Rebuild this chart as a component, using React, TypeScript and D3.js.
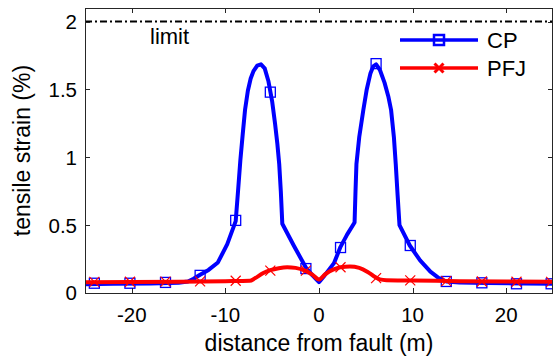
import React from 'react';
import * as d3 from 'd3';

// CP (blue) curve: distance (m) and tensile strain (%)
const cpDistance = [-25, -22, -18, -15, -14, -13.4, -12.7, -11.8, -10.8, -9.8, -8.9, -8.65, -8.4, -8.15, -7.9, -7.6, -7.3, -7.0, -6.6, -6.2, -5.8, -5.4, -5.0, -4.7, -4.45, -4.25, -4.08, -3.92, -2.7, -1.42, -0.7, 0, 0.6, 1.6, 2.3, 3.0, 3.8, 3.9, 4.0, 4.3, 4.74, 5.1, 5.5, 5.8, 6.1, 6.5, 7.0, 7.4, 7.7, 8.0, 8.2, 8.4, 8.6, 9.7, 10.8, 11.9, 12.8, 13.6, 15, 18, 22, 25];
const cpStrain = [0.065, 0.068, 0.07, 0.075, 0.085, 0.105, 0.135, 0.17, 0.225, 0.36, 0.53, 0.75, 0.98, 1.17, 1.35, 1.49, 1.58, 1.635, 1.675, 1.685, 1.655, 1.56, 1.41, 1.25, 1.1, 0.95, 0.75, 0.51, 0.35, 0.19, 0.13, 0.08, 0.13, 0.22, 0.34, 0.43, 0.52, 0.75, 0.95, 1.15, 1.35, 1.5, 1.62, 1.67, 1.685, 1.645, 1.55, 1.45, 1.35, 1.15, 0.95, 0.72, 0.5, 0.35, 0.24, 0.157, 0.11, 0.085, 0.078, 0.073, 0.07, 0.068];

// PFJ (red) curve
const pfjDistance = [-25, -15, -10, -7.4, -6.85, -6.0, -5.2, -4.3, -3.4, -2.5, -1.5, -0.7, 0, 0.7, 1.5, 2.3, 3.3, 4.3, 5.2, 5.9, 6.5, 7.2, 10, 15, 20, 25];
const pfjStrain = [0.08, 0.083, 0.087, 0.09, 0.108, 0.145, 0.168, 0.183, 0.19, 0.185, 0.165, 0.135, 0.1, 0.14, 0.172, 0.19, 0.195, 0.185, 0.155, 0.122, 0.1, 0.094, 0.092, 0.087, 0.084, 0.082];

// marker positions
const markerDistance = [-24, -20.2, -16.4, -12.7, -8.9, -5.2, -1.4, 2.3, 6.1, 9.75, 13.6, 17.4, 21.1, 24.8];
const cpMarkerStrain = [0.072, 0.072, 0.078, 0.13, 0.535, 1.48, 0.18, 0.335, 1.69, 0.35, 0.085, 0.075, 0.068, 0.068];
const pfjMarkerStrain = [0.082, 0.083, 0.084, 0.086, 0.09, 0.165, 0.165, 0.19, 0.11, 0.093, 0.088, 0.085, 0.083, 0.082];

const xTicks = [-20, -10, 0, 10, 20];
const yTicks = [0, 0.5, 1, 1.5, 2];
const xDomain = [-25, 25];
const yDomain = [0, 2.1];
const limitValue = 2;
const limitLabel = 'limit';
const seriesNames = ['CP', 'PFJ'];
const xLabel = 'distance from fault (m)';
const yLabel = 'tensile strain (%)';

const FONT = '"Liberation Sans", Arial, sans-serif';
const BLUE = '#0000ff';
const RED = '#ff0000';
const AX = '#262626';

export default function App() {
  const W = 554, H = 363;
  const L = 85, R = 553, T = 8, B = 293;
  const x = d3.scaleLinear().domain(xDomain).range([L, R]);
  const y = d3.scaleLinear().domain(yDomain).range([B, T]);
  const line = d3.line<[number, number]>().x(d => x(d[0])).y(d => y(d[1])).curve(d3.curveLinear);
  const cpPts: [number, number][] = cpDistance.map((d, i) => [d, cpStrain[i]]);
  const pfjPts: [number, number][] = pfjDistance.map((d, i) => [d, pfjStrain[i]]);
  const smooth = d3.line<[number, number]>().x(d => x(d[0])).y(d => y(d[1])).curve(d3.curveMonotoneX);
  const fsTick = 20.5;
  const fsLab = 23;
  const tk = 5;

  const square = (cx: number, cy: number, s: number, sw: number, key: any) => (
    <rect key={key} x={cx - s / 2} y={cy - s / 2} width={s} height={s} fill="none" stroke={BLUE} strokeWidth={sw} />
  );
  const cross = (cx: number, cy: number, s: number, sw: number, key: any) => (
    <path key={key} d={`M${cx - s / 2},${cy - s / 2}L${cx + s / 2},${cy + s / 2}M${cx - s / 2},${cy + s / 2}L${cx + s / 2},${cy - s / 2}`} stroke={RED} strokeWidth={sw} fill="none" />
  );

  const legX0 = 400, legX1 = 478, legY = [40, 68];

  return (
    <svg width={W} height={H} style={{ position: 'absolute', left: 0, top: 0, background: '#fff' }} fontFamily={FONT}>
      <rect x={0} y={0} width={W} height={H} fill="#fff" />
      <defs>
        <clipPath id="plot"><rect x={L} y={T} width={R - L} height={B - T} /></clipPath>
      </defs>
      {/* limit */}
      <line x1={x(xDomain[0])} x2={x(xDomain[1])} y1={y(limitValue)} y2={y(limitValue)} stroke="#000" strokeWidth={2} strokeDasharray="7,3,2,3" />
      <text x={150} y={44} fontSize={22} fill="#000">{limitLabel}</text>
      <g clipPath="url(#plot)">
        <path d={line(cpPts) || ''} fill="none" stroke={BLUE} strokeWidth={4} strokeLinejoin="round" />
        {markerDistance.map((d, i) => square(x(d), y(cpMarkerStrain[i]), 10, 1.3, 'c' + i))}
        <path d={smooth(pfjPts) || ''} fill="none" stroke={RED} strokeWidth={4} strokeLinejoin="round" />
        {markerDistance.map((d, i) => cross(x(d), y(pfjMarkerStrain[i]), 10, 1.2, 'p' + i))}
      </g>
      {/* axes box */}
      <rect x={L + 0.5} y={T + 0.5} width={R - L - 1} height={B - T} fill="none" stroke={AX} strokeWidth={1} />
      {xTicks.map(t => (
        <g key={'xt' + t}>
          <line x1={Math.round(x(t)) + 0.5} x2={Math.round(x(t)) + 0.5} y1={B} y2={B - tk} stroke={AX} />
          <line x1={Math.round(x(t)) + 0.5} x2={Math.round(x(t)) + 0.5} y1={T} y2={T + tk} stroke={AX} />
          <text x={x(t)} y={322} fontSize={fsTick} textAnchor="middle" fill="#000">{String(t)}</text>
        </g>
      ))}
      {yTicks.map(t => (
        <g key={'yt' + t}>
          <line x1={L} x2={L + tk} y1={Math.round(y(t)) + 0.5} y2={Math.round(y(t)) + 0.5} stroke={AX} />
          <line x1={R} x2={R - tk} y1={Math.round(y(t)) + 0.5} y2={Math.round(y(t)) + 0.5} stroke={AX} />
          <text x={77} y={y(t)} dy="0.36em" fontSize={fsTick} textAnchor="end" fill="#000">{String(t)}</text>
        </g>
      ))}
      <text x={(L + R) / 2} y={351} fontSize={fsLab} textAnchor="middle" fill="#000">{xLabel}</text>
      <text transform={`translate(30,${(T + B) / 2}) rotate(-90)`} fontSize={fsLab} textAnchor="middle" fill="#000">{yLabel}</text>
      {/* legend */}
      <line x1={legX0} x2={legX1} y1={legY[0]} y2={legY[0]} stroke={BLUE} strokeWidth={3.5} />
      {square((legX0 + legX1) / 2, legY[0], 10, 2.5, 'ls')}
      <text x={487} y={legY[0]} dy="0.36em" fontSize={22} fill="#000">{seriesNames[0]}</text>
      <line x1={legX0} x2={legX1} y1={legY[1]} y2={legY[1]} stroke={RED} strokeWidth={3.5} />
      {cross((legX0 + legX1) / 2, legY[1], 9, 3, 'lx')}
      <text x={487} y={legY[1]} dy="0.36em" fontSize={22} fill="#000">{seriesNames[1]}</text>
    </svg>
  );
}
